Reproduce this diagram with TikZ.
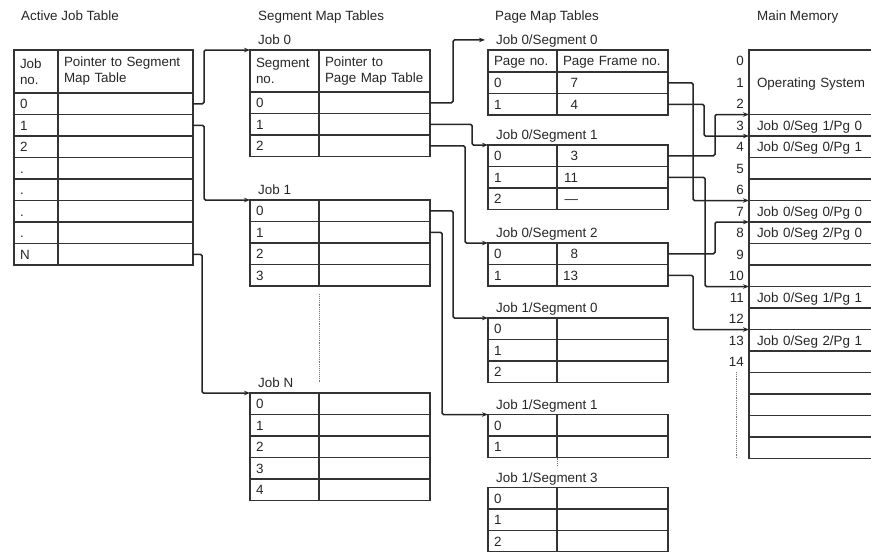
\documentclass[tikz,border=0pt]{standalone}
\usepackage{fontspec}
\setmainfont{Liberation Sans}
\usetikzlibrary{positioning, arrows.meta}

\begin{document}
\begin{tikzpicture}[x=1pt, y=-1pt,
    font=\fontsize{13.4}{16}\selectfont, text=black!85,
    cell/.style={draw=black!80, line width=1.1pt, anchor=north west, inner xsep=6pt, inner ysep=0pt, outer sep=0pt, align=left, text width=#1, minimum height=21.5pt, text height=9.7pt, text depth=0pt},
    head/.style={draw=black!80, line width=1.1pt, anchor=north west, inner xsep=6pt, inner ysep=0pt, outer sep=0pt, align=left, text width=#1},
    tlabel/.style={inner sep=0pt, text height=9.7pt, text depth=0pt},
    heading/.style={anchor=base west, inner sep=0pt},
    num/.style={anchor=east, inner sep=0pt, text height=9.7pt, text depth=0pt},
    conn/.style={draw=black!85, line width=1.5pt, rounded corners=1.5pt, -{Stealth[length=6pt, width=4.5pt]}},
    dotline/.style={draw=black!55, line width=0.9pt, densely dotted}
  ]
  \useasboundingbox (0,0) rectangle (871,552);
  \clip (0,0) rectangle (871,552);

  \node[heading] (tajt) at (21,20) {Active Job Table};
  \node[heading] (tseg) at (258,20) {Segment Map Tables};
  \node[heading] (tpage) at (495,20) {Page Map Tables};
  \node[heading] (tmem) at (757,20) {Main Memory};

  \node[head=32pt, minimum height=43pt] (ah) at (14,50) {Job\\no.};
  \node[head=123pt, minimum height=43pt] (ahp) at (58,50) {Pointer to Segment\\Map Table};
  \foreach \t [count=\i from 0] in {0,1,2,{.},{.},{.},{.},N} {
    \node[cell=32pt] (a\i) at (14,93+21.5*\i) {\t};
    \node[cell=123pt] (ap\i) at (58,93+21.5*\i) {};
  }

  \node[head=57pt, minimum height=42pt] (j0h) at (250,50) {Segment\\no.};
  \node[head=99pt, minimum height=42pt] (j0hp) at (319,50) {Pointer to\\Page Map Table};
  \foreach \i in {0,1,2} {
    \node[cell=57pt] (j0s\i) at (250,92+21.5*\i) {\i};
    \node[cell=99pt] (j0p\i) at (319,92+21.5*\i) {};
  }
  \node[tlabel, above right=5pt and 8pt of j0h.north west] (j0lab) {Job 0};
  \foreach \i in {0,...,3} {
    \node[cell=57pt] (j1s\i) at (250,200+21.5*\i) {\i};
    \node[cell=99pt] (j1p\i) at (319,200+21.5*\i) {};
  }
  \node[tlabel, above right=5pt and 8pt of j1s0.north west] (j1lab) {Job 1};
  \foreach \i in {0,...,4} {
    \node[cell=57pt] (jNs\i) at (250,393+21.5*\i) {\i};
    \node[cell=99pt] (jNp\i) at (319,393+21.5*\i) {};
  }
  \node[tlabel, above right=5pt and 8pt of jNs0.north west] (jNlab) {Job N};
  \draw[dotline, shorten <=8pt, shorten >=10pt] (j1p3.south west) -- (jNp0.north west);

  \node[cell=57pt, minimum height=22pt] (p00h) at (488,50) {Page no.};
  \node[cell=99pt, minimum height=22pt] (p00hp) at (557,50) {Page Frame no.};
  \foreach \v [count=\i from 0] in {7,4} {
    \node[cell=57pt] (p00n\i) at (488,72+21.5*\i) {\i};
    \node[cell=99pt] (p00f\i) at (557,72+21.5*\i) {\makebox[15pt][r]{\v}};
  }
  \node[tlabel, above right=5pt and 8pt of p00h.north west] (p00lab) {Job 0/Segment 0};
  \foreach \v [count=\i from 0] in {3,11,\textemdash} {
    \node[cell=57pt] (p01n\i) at (488,145+21.5*\i) {\i};
    \node[cell=99pt] (p01f\i) at (557,145+21.5*\i) {\makebox[15pt][r]{\v}};
  }
  \node[tlabel, above right=5pt and 8pt of p01n0.north west] (p01lab) {Job 0/Segment 1};
  \foreach \v [count=\i from 0] in {8,13} {
    \node[cell=57pt] (p02n\i) at (488,243+21.5*\i) {\i};
    \node[cell=99pt] (p02f\i) at (557,243+21.5*\i) {\makebox[15pt][r]{\v}};
  }
  \node[tlabel, above right=5pt and 8pt of p02n0.north west] (p02lab) {Job 0/Segment 2};
  \foreach \i in {0,1,2} {
    \node[cell=57pt] (p10n\i) at (488,318+21.5*\i) {\i};
    \node[cell=99pt] (p10f\i) at (557,318+21.5*\i) {};
  }
  \node[tlabel, above right=5pt and 8pt of p10n0.north west] (p10lab) {Job 1/Segment 0};
  \foreach \i in {0,1} {
    \node[cell=57pt] (p11n\i) at (488,414.5+21.5*\i) {\i};
    \node[cell=99pt] (p11f\i) at (557,414.5+21.5*\i) {};
  }
  \node[tlabel, above right=5pt and 8pt of p11n0.north west] (p11lab) {Job 1/Segment 1};
  \foreach \i in {0,1,2} {
    \node[cell=57pt] (p13n\i) at (488,487.5+21.5*\i) {\i};
    \node[cell=99pt] (p13f\i) at (557,487.5+21.5*\i) {};
  }
  \node[tlabel, above right=5pt and 8pt of p13n0.north west] (p13lab) {Job 1/Segment 3};
  \draw[dotline] (p11f1.south west) -- ++(0,9);

  \node[cell=110pt, inner xsep=8pt, minimum height=64.5pt] (mos) at (749,50) {Operating System};
  \foreach \t [count=\i from 3] in {Job 0/Seg 1/Pg 0, Job 0/Seg 0/Pg 1, {}, {}, Job 0/Seg 0/Pg 0, Job 0/Seg 2/Pg 0, {}, {}, Job 0/Seg 1/Pg 1, {}, Job 0/Seg 2/Pg 1, {}, {}, {}, {}, {}} {
    \node[cell=110pt, inner xsep=8pt] (m\i) at (749,50+21.5*\i) {\t};
  }
  \foreach \i in {0,...,14}
    \node[num] (n\i) at (744,60.75+21.5*\i) {\i};
  \draw[dotline] ([yshift=-5pt]n14.south) -- (n14.south |- m18.south west);

  \draw[conn] (ap0.east) -- ++(11,0) |- (j0h.north west);
  \draw[conn] (ap1.east) -- ++(11,0) |- (j1s0.north west);
  \draw[conn] (ap7.east) -- ++(9,0) |- (jNs0.north west);
  \draw[conn, shorten >=11pt] (j0p0.east) -- ++(23,0) |- (p00lab.west);
  \draw[conn] (j0p1.east) -- ++(42,0) |- (p01n0.north west);
  \draw[conn] (j0p2.east) -- ++(35,0) |- (p02n0.north west);
  \draw[conn] (j1p0.east) -- ++(23,0) |- (p10n0.north west);
  \draw[conn] (j1p1.east) -- ++(12,0) |- (p11n0.north west);
  \foreach \s/\d/\t in {p00f0/25/m7, p00f1/36/m4, p01f0/47/m3, p01f1/37/m11, p02f0/47/m8, p02f1/25/m13}
    \draw[conn] (\s.east) -- ++(\d,0) |- (\t.north west);
\end{tikzpicture}
\end{document}
